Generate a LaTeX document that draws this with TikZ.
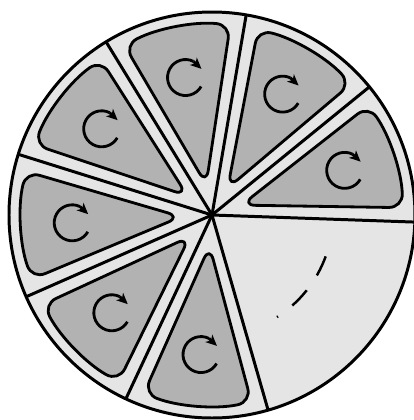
\documentclass[tikz,border=0pt]{standalone}
\usepackage{tikz}
\usetikzlibrary{arrows.meta}

\definecolor{lightgray}{gray}{0.9}
\definecolor{cellgray}{gray}{0.7}

\begin{document}
\begin{tikzpicture}[x=0.2mm,y=0.2mm,>=Latex,
  rim/.style={line width=1.7pt},
  cut/.style={line width=1.7pt},
  cell/.style={line width=1.6pt,fill=cellgray,rounded corners=2.8mm,line join=round},
  turn/.style={line width=1.6pt},
  tip/.style={line width=1.6pt,-{Stealth[length=2.2mm,width=2mm,inset=0.6mm]}}]
\useasboundingbox (-212,-205) rectangle (202,215);
\coordinate (O) at (0,0);

\fill[lightgray] (O) circle (203);

\draw[cut] (O) -- (-2:203);
\draw[cut] (O) -- (39.15:203);
\draw[cut] (O) -- (80.3:203);
\draw[cut] (O) -- (121.45:203);
\draw[cut] (O) -- (162.6:203);
\draw[cut] (O) -- (203.75:203);
\draw[cut] (O) -- (244.9:203);
\draw[cut] (O) -- (286.05:203);

\draw[cell] (18.6:31) -- (2.2:191) arc[start angle=2.2,end angle=35.0,radius=191] -- cycle;
\draw[cell] (59.7:31) -- (43.3:191) arc[start angle=43.3,end angle=76.1,radius=191] -- cycle;
\draw[cell] (100.9:31) -- (84.5:191) arc[start angle=84.5,end angle=117.3,radius=191] -- cycle;
\draw[cell] (142.0:31) -- (125.6:191) arc[start angle=125.6,end angle=158.4,radius=191] -- cycle;
\draw[cell] (183.2:31) -- (166.8:191) arc[start angle=166.8,end angle=199.6,radius=191] -- cycle;
\draw[cell] (224.3:31) -- (207.9:191) arc[start angle=207.9,end angle=240.7,radius=191] -- cycle;
\draw[cell] (265.5:31) -- (249.1:191) arc[start angle=249.1,end angle=281.9,radius=191] -- cycle;

\draw[turn] (18.6:140) ++(-30:18) arc[start angle=-30,end angle=-296,radius=18];
\draw[tip] (18.6:140) ++(64:18) -- ++(-43:11);
\draw[turn] (59.7:140) ++(-30:18) arc[start angle=-30,end angle=-296,radius=18];
\draw[tip] (59.7:140) ++(64:18) -- ++(-43:11);
\draw[turn] (100.9:140) ++(-30:18) arc[start angle=-30,end angle=-296,radius=18];
\draw[tip] (100.9:140) ++(64:18) -- ++(-43:11);
\draw[turn] (142.0:140) ++(-30:18) arc[start angle=-30,end angle=-296,radius=18];
\draw[tip] (142.0:140) ++(64:18) -- ++(-43:11);
\draw[turn] (183.2:140) ++(-30:18) arc[start angle=-30,end angle=-296,radius=18];
\draw[tip] (183.2:140) ++(64:18) -- ++(-43:11);
\draw[turn] (224.3:140) ++(-30:18) arc[start angle=-30,end angle=-296,radius=18];
\draw[tip] (224.3:140) ++(64:18) -- ++(-43:11);
\draw[turn] (265.5:140) ++(-30:18) arc[start angle=-30,end angle=-296,radius=18];
\draw[tip] (265.5:140) ++(64:18) -- ++(-43:11);

\draw[line width=1.4pt,dash pattern=on 4.2mm off 3.6mm] (-20:121) arc[start angle=-20,end angle=-57.5,radius=121];

\draw[rim] (O) circle (203);
\end{tikzpicture}
\end{document}
